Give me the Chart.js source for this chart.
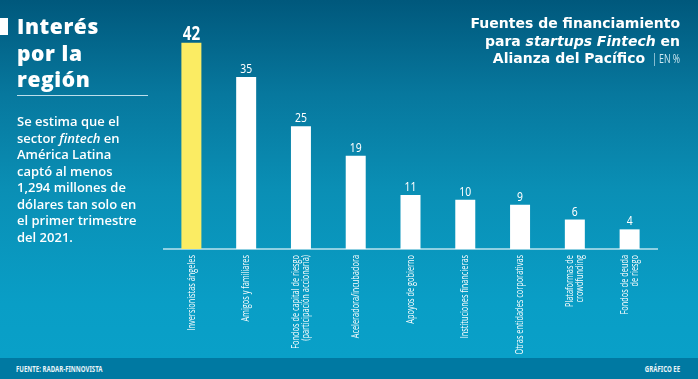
<!DOCTYPE html>
<html>
<head>
<meta charset="utf-8">
<script src="https://cdn.jsdelivr.net/npm/chart.js@4"></script>
<style>
  html, body { margin: 0; padding: 0; }
  body {
    width: 698px; height: 379px; position: relative; overflow: hidden;
    background: linear-gradient(to bottom, #00587c 0%, #07789e 25%, #0a8fb5 50%, #099ec6 80%, #09a0c8 94%);
    font-family: "Open Sans", "DejaVu Sans", sans-serif;
  }
  #footer {
    position: absolute; left: 0; top: 358px; width: 698px; height: 21px; background: #0079a2;
    font-family: "Noto Sans", sans-serif; font-weight: bold;
    font-size: 9.5px; color: #e8f4f8; white-space: nowrap;
  }
  #footer .l { position: absolute; left: 16px; top: 4px; transform: scaleX(0.64); transform-origin: left center; }
  #footer .r { position: absolute; right: 18px; top: 4px; transform: scaleX(0.64); transform-origin: right center; }
  #marker { position: absolute; left: 0; top: 18px; width: 8px; height: 17px; background: #ffffff; }
  #title {
    position: absolute; left: 17px; top: 13px; color: #ffffff;
    font-family: "Open Sans", sans-serif; font-weight: 800; font-size: 21px; line-height: 26.5px; letter-spacing: 0.6px;
  }
  #rule { position: absolute; left: 17px; top: 95px; width: 131px; height: 1px; background: rgba(220,240,248,0.85); }
  #body {
    position: absolute; left: 17px; top: 113px; color: #ffffff; width: 160px; white-space: nowrap;
    font-family: "Open Sans", sans-serif; font-weight: 600; font-size: 13px; line-height: 16.5px;
  }
  #rt {
    position: absolute; right: 18px; top: 15px; text-align: right; color: #ffffff; white-space: nowrap;
    font-family: "DejaVu Sans", sans-serif; font-weight: 700; font-size: 14px; line-height: 17.5px;
  }
  #rt .u { display: inline-block; font-family: "Open Sans", sans-serif; font-weight: normal; font-size: 12.5px; color: #cfe9f2; transform: scaleX(0.7); transform-origin: right center; margin-left: -10px; }
  #chartwrap { position: absolute; left: 0; top: 0; width: 698px; height: 379px; }
</style>
</head>
<body>
<div id="chartwrap"><canvas id="c" width="698" height="379"></canvas></div>
<div id="marker"></div>
<div id="title">Interés<br>por la<br>región</div>
<div id="rule"></div>
<div id="body">Se estima que el<br>sector <i>fintech</i> en<br>América Latina<br>captó al menos<br>1,294 millones de<br>dólares tan solo en<br>el primer trimestre<br>del 2021.</div>
<div id="rt">Fuentes de financiamiento<br>para <i>startups Fintech</i> en<br>Alianza del Pacífico <span class="u">| EN %</span></div>
<div id="footer"><span class="l">FUENTE: RADAR-FINNOVISTA</span><span class="r">GRÁFICO EE</span></div>
<script>
const categories = [
  "Inversionistas ángeles",
  "Amigos y familiares",
  ["Fondos de capital de riesgo", "(participación accionaria)"],
  "Aceleradora/incubadora",
  "Apoyos de gobierno",
  "Instituciones financieras",
  "Otras entidades corporativas",
  ["Plataformas de", "crowdfunding"],
  ["Fondos de deuda", "de riesgo"]
];
const values = [42, 35, 25, 19, 11, 10, 9, 6, 4];
const barColors = ["#fbec63", "#ffffff", "#ffffff", "#ffffff", "#ffffff", "#ffffff", "#ffffff", "#ffffff", "#ffffff"];

// condensed value labels above bars
const valueLabels = {
  id: 'valueLabels',
  afterDatasetsDraw(chart) {
    const ctx = chart.ctx;
    const meta = chart.getDatasetMeta(0);
    ctx.save();
    ctx.fillStyle = '#ffffff';
    ctx.textAlign = 'center';
    ctx.textBaseline = 'alphabetic';
    meta.data.forEach((bar, i) => {
      ctx.save();
      if (i === 0) {
        ctx.translate(bar.x, bar.y - 3);
        ctx.scale(0.8, 1);
        ctx.font = 'bold 19px "Noto Sans", sans-serif';
      } else {
        ctx.translate(bar.x, bar.y - 4);
        ctx.scale(0.8, 1);
        ctx.font = '13px "Noto Sans", sans-serif';
      }
      ctx.fillText(String(values[i]), 0, 0);
      ctx.restore();
    });
    ctx.restore();
  }
};

// condensed, rotated category labels placed at the x scale's tick positions
const condensedTicks = {
  id: 'condensedTicks',
  afterDraw(chart) {
    const scale = chart.scales.x;
    const ctx = chart.ctx;
    const lineH = 10;
    ctx.save();
    ctx.fillStyle = '#ffffff';
    ctx.font = '11px "Open Sans", sans-serif';
    ctx.textAlign = 'right';
    ctx.textBaseline = 'middle';
    scale.ticks.forEach((t, i) => {
      const lbl = chart.data.labels[i];
      const lines = Array.isArray(lbl) ? lbl : [lbl];
      const x = scale.getPixelForTick(i);
      const y = scale.top + 6;
      ctx.save();
      ctx.translate(x, y);
      ctx.rotate(-Math.PI / 2);
      ctx.scale(0.67, 1);
      lines.forEach((ln, k) => {
        const off = (k - (lines.length - 1) / 2) * lineH;
        ctx.fillText(ln, 0, off);
      });
      ctx.restore();
    });
    ctx.restore();
  }
};

new Chart(document.getElementById('c'), {
  type: 'bar',
  data: {
    labels: categories,
    datasets: [{
      data: values,
      backgroundColor: barColors,
      borderWidth: 0,
      categoryPercentage: 1,
      barPercentage: 0.365
    }]
  },
  options: {
    responsive: false,
    animation: false,
    events: [],
    layout: { padding: { left: 164, right: 41, top: 23, bottom: 0 } },
    plugins: { legend: { display: false }, tooltip: { enabled: false } },
    scales: {
      x: {
        grid: { display: false, drawTicks: false },
        border: { display: true, color: '#8fd0e2', width: 2 },
        afterFit: (s) => { s.height = 130; },
        ticks: { display: false, autoSkip: false }
      },
      y: {
        display: false,
        min: 0, max: 46
      }
    }
  },
  plugins: [valueLabels, condensedTicks]
});
</script>
</body>
</html>
